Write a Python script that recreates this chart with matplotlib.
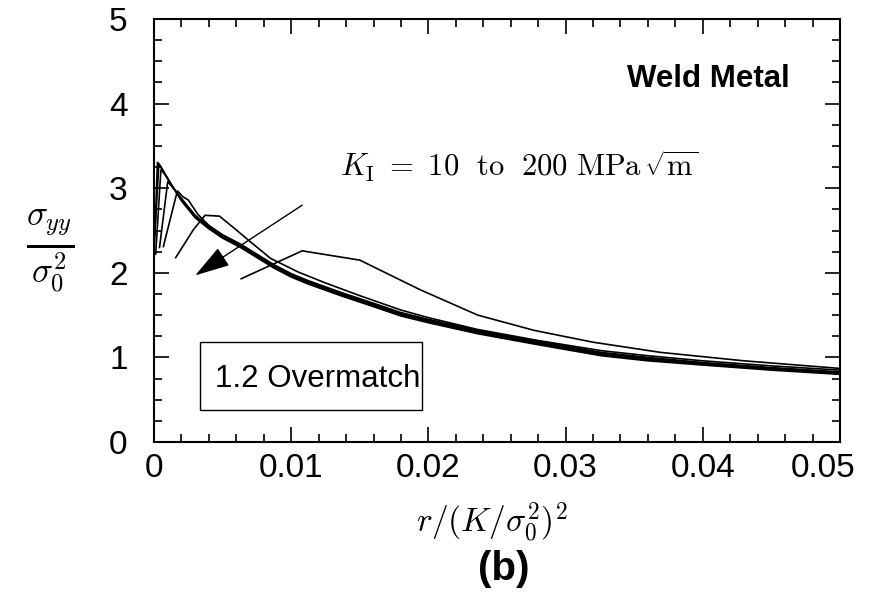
import matplotlib
matplotlib.use("Agg")
import matplotlib.pyplot as plt
from matplotlib.ticker import MultipleLocator
from matplotlib.patches import Rectangle
from matplotlib.transforms import ScaledTranslation

plt.rcParams['font.family'] = ['Liberation Sans', 'DejaVu Sans']
plt.rcParams['mathtext.fontset'] = 'cm'

# normalized distance r/(K/sigma0^2)^2 and normalized opening stress, one pair per K value
x_k200 = [0.00003, 0.00025, 0.0006, 0.001, 0.002, 0.003, 0.004, 0.005, 0.0063, 0.0075, 0.0087,
          0.010, 0.0112, 0.0136, 0.016, 0.018, 0.020, 0.0236, 0.028, 0.0326, 0.036, 0.040, 0.045, 0.050]
y_k200 = [2.30, 3.31, 3.22, 3.11, 2.85, 2.65, 2.52, 2.41, 2.30, 2.18, 2.06,
          1.95, 1.87, 1.73, 1.60, 1.49, 1.41, 1.28, 1.15, 1.02, 0.96, 0.91, 0.85, 0.80]

x_k150 = [0.00006, 0.00035, 0.0007, 0.0012, 0.002, 0.003, 0.004, 0.005, 0.0063, 0.0075, 0.0087,
          0.010, 0.0112, 0.0136, 0.016, 0.018, 0.020, 0.0236, 0.028, 0.0326, 0.036, 0.040, 0.045, 0.050]
y_k150 = [2.45, 3.29, 3.20, 3.06, 2.86, 2.66, 2.53, 2.42, 2.31, 2.19, 2.07,
          1.96, 1.88, 1.74, 1.61, 1.50, 1.42, 1.29, 1.16, 1.03, 0.97, 0.92, 0.86, 0.81]

x_k100 = [0.00012, 0.0005, 0.0008, 0.0013, 0.002, 0.003, 0.004, 0.005, 0.0063, 0.0075, 0.0087,
          0.010, 0.0112, 0.0136, 0.016, 0.018, 0.020, 0.0236, 0.028, 0.0326, 0.036, 0.040, 0.045, 0.050]
y_k100 = [2.22, 3.22, 3.16, 3.03, 2.87, 2.67, 2.54, 2.43, 2.32, 2.20, 2.08,
          1.97, 1.89, 1.75, 1.62, 1.51, 1.43, 1.30, 1.17, 1.04, 0.98, 0.93, 0.87, 0.82]

x_k70 = [0.0004, 0.0010, 0.0014, 0.002, 0.003, 0.004, 0.005, 0.0063, 0.0075, 0.0087,
         0.010, 0.0112, 0.0136, 0.016, 0.018, 0.020, 0.0236, 0.028, 0.0326, 0.036, 0.040, 0.045, 0.050]
y_k70 = [2.30, 3.08, 3.00, 2.88, 2.68, 2.55, 2.44, 2.33, 2.21, 2.09,
         1.98, 1.90, 1.76, 1.63, 1.52, 1.44, 1.31, 1.18, 1.05, 0.99, 0.93, 0.87, 0.82]

x_k50 = [0.00068, 0.0017, 0.0021, 0.0025, 0.0032, 0.004, 0.005, 0.0063, 0.0075, 0.0087,
         0.010, 0.0112, 0.0136, 0.016, 0.018, 0.020, 0.0236, 0.028, 0.0326, 0.036, 0.040, 0.045, 0.050]
y_k50 = [2.31, 2.97, 2.90, 2.86, 2.69, 2.56, 2.45, 2.34, 2.22, 2.10,
         1.99, 1.91, 1.77, 1.64, 1.53, 1.45, 1.32, 1.19, 1.06, 1.00, 0.94, 0.88, 0.83]

x_k20 = [0.00158, 0.00287, 0.00372, 0.00477, 0.0059, 0.0070, 0.0085, 0.0105, 0.0125, 0.015,
         0.018, 0.020, 0.0236, 0.028, 0.0326, 0.036, 0.040, 0.045, 0.050]
y_k20 = [2.18, 2.51, 2.68, 2.67, 2.52, 2.37, 2.17, 2.01, 1.88, 1.73,
         1.56, 1.47, 1.33, 1.20, 1.08, 1.02, 0.96, 0.90, 0.85]

x_k10 = [0.00635, 0.0108, 0.0150, 0.0194, 0.0236, 0.0277, 0.0320, 0.0369, 0.0430, 0.0500]
y_k10 = [1.93, 2.26, 2.15, 1.80, 1.50, 1.32, 1.18, 1.06, 0.96, 0.87]

curves = [(x_k200, y_k200), (x_k150, y_k150), (x_k100, y_k100), (x_k70, y_k70),
          (x_k50, y_k50), (x_k20, y_k20), (x_k10, y_k10)]

x_ticks = [0, 0.01, 0.02, 0.03, 0.04, 0.05]
x_ticklabels = ['0', '0.01', '0.02', '0.03', '0.04', '0.05']
y_ticks = [0, 1, 2, 3, 4, 5]
y_ticklabels = ['0', '1', '2', '3', '4', '5']

fig = plt.figure(figsize=(8.94, 5.95), dpi=100)
ax = fig.add_axes([0.1723, 0.2571, 0.7673, 0.7109])

for xs, ys in curves:
    ax.plot(xs, ys, color='black', lw=1.2, solid_joinstyle='miter')

ax.set_xlim(0, 0.05)
ax.set_ylim(0, 5)
ax.set_xticks(x_ticks)
ax.set_xticklabels(x_ticklabels)
ax.set_yticks(y_ticks)
ax.set_yticklabels(y_ticklabels)
ax.xaxis.set_minor_locator(MultipleLocator(0.002))
ax.yaxis.set_minor_locator(MultipleLocator(0.25))
ax.tick_params(which='both', direction='in', top=True, right=True, width=1.2, labelsize=24)
ax.tick_params(which='major', length=10.5)
ax.tick_params(which='minor', length=5.5)
ax.tick_params(axis='x', pad=8)
ax.tick_params(axis='y', pad=19)
for s in ax.spines.values():
    s.set_linewidth(1.5)

# the last x label sits a little left of its tick in the original
last = ax.get_xticklabels()[-1]
last.set_transform(last.get_transform() + ScaledTranslation(-12 / 72, 0, fig.dpi_scale_trans))

# arrow and K range annotation
ax.annotate('', xy=(0.0030, 1.97), xytext=(0.0108, 2.80),
            arrowprops=dict(arrowstyle='-|>,head_length=1.1,head_width=0.33',
                            mutation_scale=20, color='black', lw=1.0, shrinkA=0, shrinkB=0))
ax.text(0.01358, 3.13, r'$K_{\rm I}\ =\ 10\ \ \mathrm{to}\ \ 200\ \mathrm{MPa}\,\sqrt{\mathrm{m}}$',
        fontsize=22, va='baseline', ha='left')

ax.text(0.0345, 4.20, 'Weld Metal', fontsize=22.5, fontweight='bold', va='baseline', ha='left')

ax.add_patch(Rectangle((0.00336, 0.378), 0.0162, 0.80, fill=False, lw=1.0, ec='black'))
ax.text(0.00445, 0.65, '1.2 Overmatch', fontsize=22.5, va='baseline', ha='left', clip_on=False)

fig.text(0.056, 0.578, r'$\frac{\sigma_{yy}}{\sigma_0^2}$', fontsize=36, ha='center', va='center')
fig.text(0.5503, 0.121, r'$r/(K/\sigma_0^2)^2$', fontsize=24, ha='center', va='center')
fig.text(0.564, 0.044, '(b)', fontsize=29, fontweight='bold', ha='center', va='center')

fig.savefig('out.png', dpi=100)
